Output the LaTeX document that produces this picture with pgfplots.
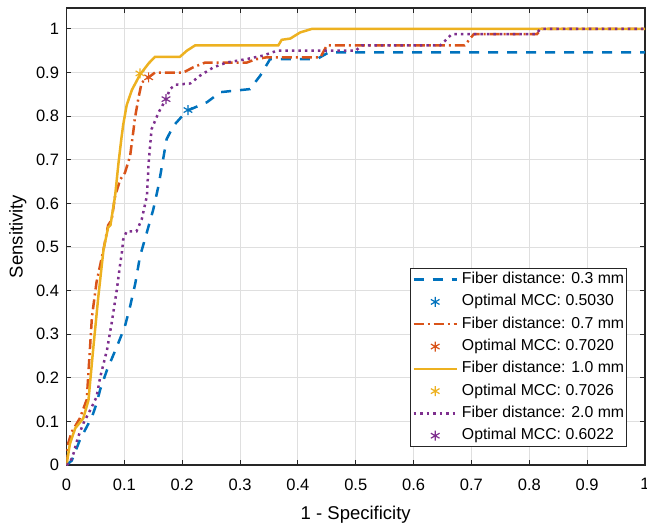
\documentclass[border=0pt]{standalone}
\usepackage{fontspec}
\setmainfont{Liberation Sans}
\usepackage{pgfplots}
\pgfplotsset{compat=1.18}
\definecolor{cblue}{RGB}{0,114,189}
\definecolor{cred}{RGB}{217,83,25}
\definecolor{corange}{RGB}{237,177,32}
\definecolor{cpurple}{RGB}{126,47,142}
\definecolor{axgray}{RGB}{38,38,38}
\definecolor{grgray}{RGB}{223,223,223}
\begin{document}
\begin{tikzpicture}
\useasboundingbox (-66.5bp,-58bp) rectangle (580.5bp,465bp);
\begin{axis}[
  scale only axis, width=578.5bp, height=457bp,
  xmin=0, xmax=1, ymin=0, ymax=1.048,
  xtick={0,0.1,0.2,0.3,0.4,0.5,0.6,0.7,0.8,0.9,1},
  ytick={0,0.1,0.2,0.3,0.4,0.5,0.6,0.7,0.8,0.9,1},
  grid=major,
  major grid style={color=grgray, line width=0.9bp},
  axis line style={color=axgray, line width=1.2bp},
  tick style={color=axgray, line width=1bp},
  major tick length=5bp,
  tick align=inside,
  /pgf/number format/assume math mode=true,
  ticklabel style={font=\fontsize{16.5bp}{19bp}\selectfont, text=black},
  xticklabel style={yshift=-10bp},
  yticklabel style={xshift=-4bp},
  label style={font=\fontsize{18.5bp}{22bp}\selectfont},
  xlabel={1 - Specificity},
  ylabel={Sensitivity},
  xlabel style={at={(axis description cs:0.5,-0.108)}, anchor=center},
  ylabel style={at={(axis description cs:-0.084,0.5)}, anchor=center},
  legend cell align=left,
  legend style={at={(axis description cs:0.969,0.039)}, anchor=south east,
    draw=axgray, line width=0.9bp, fill=white,
    font=\fontsize{15.8bp}{19bp}\selectfont,
    inner xsep=2.5bp, inner ysep=3.5bp,
    nodes={inner sep=0pt, text height=11.5bp, text depth=3.5bp},
    row sep=7.3bp, column sep=4bp},
  legend image code/.code={\draw[mark repeat=2,mark phase=2,#1] plot coordinates {(0bp,0bp) (21.5bp,0bp) (43bp,0bp)};},
  every axis plot/.append style={line width=2.5bp},
]
\addplot[cblue, dash pattern=on 10bp off 9bp] coordinates {
(0,0) (0.009,0.01) (0.018,0.04) (0.023,0.057) (0.032,0.08) (0.044,0.11) (0.052,0.141) (0.058,0.172) (0.07,0.218) (0.087,0.271) (0.101,0.318) (0.11,0.364) (0.119,0.417) (0.127,0.478) (0.142,0.548) (0.15,0.586) (0.159,0.64) (0.167,0.701) (0.173,0.747) (0.185,0.778) (0.208,0.812) (0.243,0.832) (0.266,0.855) (0.317,0.862) (0.335,0.893) (0.352,0.931) (0.433,0.931) (0.453,0.946) (1,0.946)};
\addlegendentry{Fiber distance: 0.3 mm}
\addplot[cblue, only marks, mark=asterisk, mark size=5bp, mark options={solid, line width=1.2bp}] coordinates {(0.21,0.814)};
\addlegendentry{Optimal MCC: 0.5030}
\addplot[cred, dash pattern=on 10bp off 4bp on 2bp off 4bp] coordinates {
(0,0) (0.003,0.05) (0.009,0.076) (0.023,0.107) (0.035,0.15) (0.044,0.34) (0.052,0.42) (0.064,0.494) (0.072,0.55) (0.078,0.562) (0.084,0.617) (0.093,0.655) (0.101,0.67) (0.11,0.709) (0.116,0.77) (0.118,0.793) (0.124,0.839) (0.13,0.877) (0.142,0.889) (0.153,0.9) (0.202,0.9) (0.219,0.912) (0.24,0.923) (0.312,0.923) (0.326,0.93) (0.346,0.935) (0.439,0.935) (0.45,0.962) (0.688,0.962) (0.704,0.988) (0.813,0.988) (0.822,1) (1,1)};
\addlegendentry{Fiber distance: 0.7 mm}
\addplot[cred, only marks, mark=asterisk, mark size=5bp, mark options={solid, line width=1.2bp}] coordinates {(0.142,0.889)};
\addlegendentry{Optimal MCC: 0.7020}
\addplot[corange] coordinates {
(0,0) (0.006,0.049) (0.015,0.084) (0.029,0.107) (0.038,0.149) (0.046,0.264) (0.055,0.386) (0.064,0.494) (0.072,0.545) (0.076,0.55) (0.084,0.617) (0.09,0.694) (0.095,0.75) (0.098,0.78) (0.104,0.825) (0.113,0.86) (0.127,0.895) (0.142,0.921) (0.153,0.936) (0.196,0.936) (0.208,0.95) (0.222,0.962) (0.366,0.962) (0.372,0.975) (0.387,0.978) (0.404,0.992) (0.424,1) (1,1)};
\addlegendentry{Fiber distance: 1.0 mm}
\addplot[corange, only marks, mark=asterisk, mark size=5bp, mark options={solid, line width=1.2bp}] coordinates {(0.127,0.898)};
\addlegendentry{Optimal MCC: 0.7026}
\addplot[cpurple, dash pattern=on 2.5bp off 4bp] coordinates {
(0,0) (0.006,0.005) (0.012,0.026) (0.02,0.064) (0.029,0.095) (0.041,0.126) (0.052,0.156) (0.058,0.2) (0.07,0.264) (0.078,0.325) (0.087,0.402) (0.093,0.463) (0.096,0.49) (0.098,0.517) (0.104,0.536) (0.121,0.536) (0.13,0.563) (0.139,0.617) (0.142,0.693) (0.147,0.77) (0.159,0.808) (0.172,0.839) (0.179,0.862) (0.188,0.872) (0.214,0.875) (0.231,0.893) (0.254,0.912) (0.277,0.923) (0.312,0.931) (0.34,0.939) (0.364,0.95) (0.5,0.95) (0.51,0.962) (0.646,0.962) (0.666,0.988) (0.81,0.988) (0.82,1) (1,1)};
\addlegendentry{Fiber distance: 2.0 mm}
\addplot[cpurple, only marks, mark=asterisk, mark size=5bp, mark options={solid, line width=1.2bp}] coordinates {(0.172,0.839)};
\addlegendentry{Optimal MCC: 0.6022}
\end{axis}
\end{tikzpicture}
\end{document}
